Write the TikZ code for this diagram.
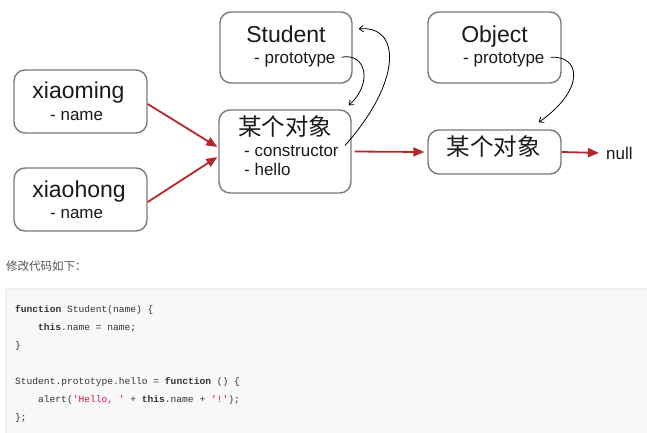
\documentclass[tikz,border=0pt]{standalone}
\usepackage{fontspec}
\setmainfont{Liberation Sans}
\setmonofont{Liberation Mono}
\newfontfamily\cjk{Noto Sans CJK SC}
\usetikzlibrary{arrows.meta}
\definecolor{boxgray}{HTML}{7A7A7A}
\definecolor{txt}{HTML}{1A1A1A}
\definecolor{redarrow}{HTML}{B5282A}
\definecolor{codebg}{HTML}{F8F8F8}
\definecolor{codeborder}{HTML}{DCDCDC}
\definecolor{codetxt}{HTML}{333333}
\definecolor{strred}{HTML}{DD1144}
\definecolor{graytxt}{HTML}{555555}
\begin{document}
\begin{tikzpicture}[x=1pt,y=-1pt,
  box/.style={draw=boxgray, line width=1.4pt, rounded corners=11pt, inner sep=0pt},
  title/.style={text=txt, inner sep=0pt, anchor=base, font=\fontsize{23}{23}\selectfont},
  cjktitle/.style={text=txt, inner sep=0pt, anchor=base, font=\cjk\fontsize{23.5}{23.5}\selectfont},
  sub/.style={text=txt, inner sep=1pt, anchor=base west, font=\fontsize{17}{17}\selectfont},
  redarr/.style={draw=redarrow, line width=1.8pt, -{Triangle[length=11pt,width=9pt]}},
  blkarr/.style={draw=black, line width=0.8pt, -{Straight Barb[length=4pt,width=6.5pt]}},
  codeline/.style={text=codetxt, inner sep=0pt, anchor=base west, font=\ttfamily\fontsize{9.6}{9.6}\selectfont}
]
\useasboundingbox (0,0) rectangle (647,432);
\fill[white] (0,0) rectangle (647,432);

% boxes
\node[box, minimum width=132pt, minimum height=71pt] (student) at (286,47.5) {};
\node[box, minimum width=133pt, minimum height=63pt] (xiaoming) at (80.5,101.5) {};
\node[box, minimum width=133pt, minimum height=63pt] (xiaohong) at (80.5,199.5) {};
\node[box, minimum width=132pt, minimum height=83pt] (mid) at (285,151.5) {};
\node[box, minimum width=133pt, minimum height=71pt] (object) at (494.5,47.5) {};
\node[box, minimum width=133pt, minimum height=44pt] (right) at (494.5,152) {};

% texts
\node[title] (tstudent) at (286,42) {Student};
\node[sub] (p1) at (253,63) {- prototype};
\node[title] (txm) at (78.5,98) {xiaoming};
\node[sub] (n1) at (49,120) {- name};
\node[title] (txh) at (79,197) {xiaohong};
\node[sub] (n2) at (49,218) {- name};
\node[cjktitle] (tmid) at (285,135.5) {某个对象};
\node[sub] (cons) at (243,156) {- constructor};
\node[sub] (hello) at (243,175) {- hello};
\node[title] (tobject) at (494.5,42) {Object};
\node[sub] (p2) at (462,63) {- prototype};
\node[cjktitle] (tright) at (493.5,155.5) {某个对象};
\node[sub] (null) at (605,159) {null};

% red arrows
\draw[redarr] ([yshift=-2.5pt]xiaoming.east) -- ([xshift=-1pt,yshift=4.5pt]mid.west);
\draw[redarr] ([yshift=-2.5pt]xiaohong.east) -- ([xshift=-1pt,yshift=-5.5pt]mid.west);
\draw[redarr] ([xshift=3pt]mid.east) -- ([xshift=-3pt]right.west);
\draw[redarr] (right.east) -- ([xshift=-6pt]null.west);

% black curved arrows
\draw[blkarr] ([xshift=5pt,yshift=2pt]p1.east) .. controls +(25,-5) and +(24,-21) .. ([xshift=-3pt,yshift=4pt]mid.north east);
\draw[blkarr] ([xshift=5pt,yshift=5pt]cons.east) .. controls +(58,-65) and +(42,-4) .. ([xshift=6pt,yshift=18.5pt]student.east);
\draw[blkarr] ([xshift=5pt,yshift=2pt]p2.east) .. controls +(30,-2) and +(47,-33) .. ([xshift=-23pt,yshift=7pt]right.north east);

% text below
\node[text=graytxt, inner sep=0pt, anchor=west, font=\cjk\fontsize{11.5}{11.5}\selectfont] (intro) at (6,266) {修改代码如下：};

% code block
\draw[fill=codebg, draw=codeborder, line width=0.8pt, rounded corners=2pt] (6,289) rectangle (660,445);
\node[codeline] (l1) at (15,312.5) {\textbf{function} Student(name) \{};
\node[codeline] (l2) at (38,330.5) {\textbf{this}.name = name;};
\node[codeline] (l3) at (15,348.5) {\}};
\node[codeline] (l5) at (15,384.5) {Student.prototype.hello = \textbf{function} () \{};
\node[codeline] (l6) at (38,402.5) {alert(\textcolor{strred}{'Hello, '} + \textbf{this}.name + \textcolor{strred}{'!'});};
\node[codeline] (l7) at (15,420.5) {\};};
\end{tikzpicture}
\end{document}
